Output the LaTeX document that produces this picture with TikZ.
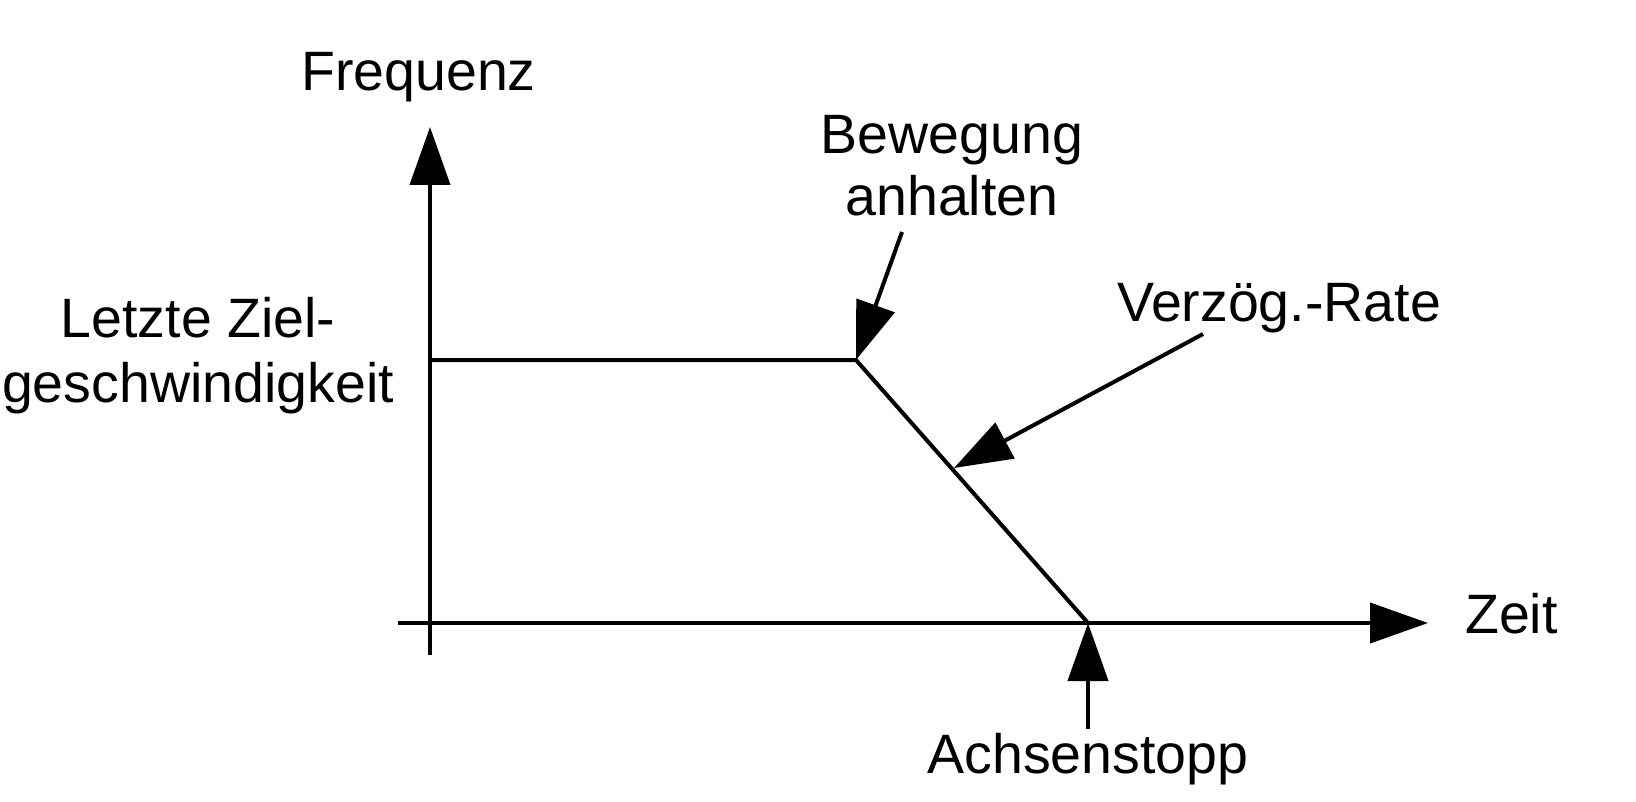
\documentclass[tikz,border=0pt]{standalone}
\usepackage{fontspec}
\setmainfont{Liberation Sans}
\usetikzlibrary{arrows.meta}
\begin{document}
\begin{tikzpicture}[x=1pt,y=-1pt,
  lbl/.style={inner sep=0pt, anchor=base, font=\fontsize{55.5}{62}\selectfont, align=center},
  ln/.style={line width=4pt},
  arr/.style={line width=4pt, -{Triangle[length=58pt,width=40pt]}}]
\useasboundingbox (0,0) rectangle (1636,802);
% chart points
\coordinate (ybot) at (430,655);
\coordinate (ytop) at (430,127);
\coordinate (xleft) at (398,623);
\coordinate (xright) at (1428,623);
\coordinate (p0) at (430,360);
\coordinate (p1) at (856,360);
\coordinate (p2) at (1088,623);
\coordinate (bewS) at (902,232);
\coordinate (verS) at (1203,334);
\coordinate (verT) at (954,468);
\coordinate (achS) at (1088,729);
% labels (multi-line: base = last line)
\node[lbl] (freq) at (418.5,91) {Frequenz};
\node[lbl] (bew) at (952,216) {Bewegung\\anhalten};
\node[lbl, font=\fontsize{55.5}{65}\selectfont] (letzte) at (198,402) {Letzte Ziel-\\geschwindigkeit};
\node[lbl] (ver) at (1279,322) {Verzög.-Rate};
\node[lbl, anchor=base west] (zeit) at (1465,633) {Zeit};
\node[lbl] (ach) at (1088,773) {Achsenstopp};
% axes
\draw[arr] (ybot) -- (ytop);
\draw[arr] (xleft) -- (xright);
% curve
\draw[ln] (p0) -- (p1) -- (p2);
% leaders
\draw[arr] (bewS) -- (p1);
\draw[arr] (verS) -- (verT);
\draw[arr] (achS) -- (p2);
\end{tikzpicture}
\end{document}
